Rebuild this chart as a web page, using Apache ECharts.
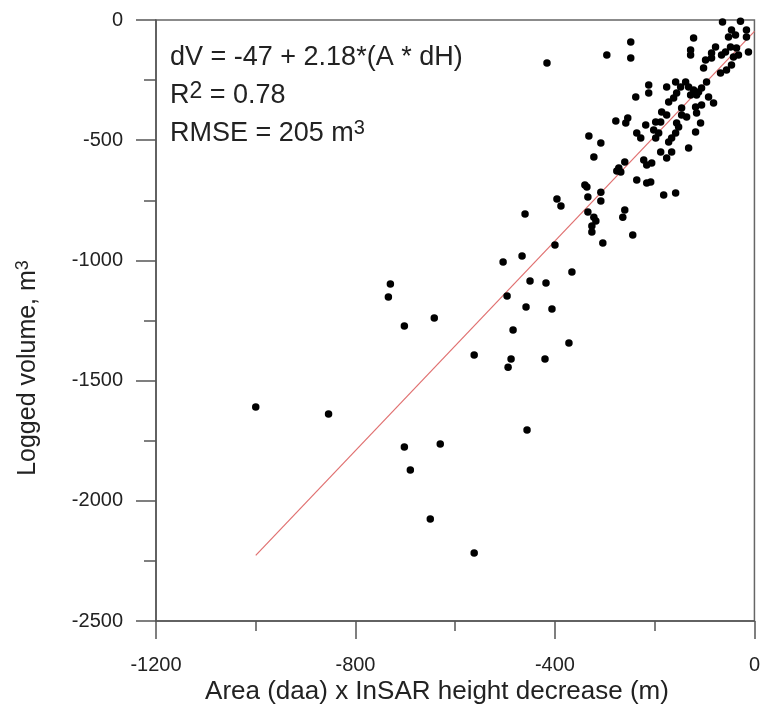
<!DOCTYPE html>
<html>
<head>
<meta charset="utf-8">
<script src="https://cdn.jsdelivr.net/npm/echarts@6/dist/echarts.min.js"></script>
<style>
  html, body { margin: 0; padding: 0; background: #fff; }
  #chart { width: 763px; height: 712px; }
</style>
</head>
<body>
<div id="chart"></div>
<script>
// logged volume vs area * InSAR height decrease
const areaDh = [
  -1000, -854, -730, -734, -702, -642, -562, -702, -630, -690, -650, -562,
  -504, -466, -496, -450, -418, -400, -366, -458, -406, -484, -488, -494, -420, -372, -456,
  -322, -272, -276, -260, -236, -340, -336, -396, -388, -334, -308, -308, -460,
  -334, -322, -318, -326, -326, -260, -264, -244, -304,
  -248, -296, -248, -416, -238, -212, -212, -278, -254, -258, -218, -332, -308,
  -236, -228, -268, -222, -216, -216,
  -64, -28, -122, -128, -128, -46, -52, -38, -16, -36, -48, -58, -66, -42, -32,
  -78, -86, -98, -102, -86, -68, -46, -56, -16, -12,
  -176, -158, -148, -138, -156, -162, -132, -122, -128, -116, -112, -106, -96,
  -92, -82, -106, -118, -172, -186, -176, -146, -146, -136, -116, -198, -188,
  -108, -156, -118, -132, -152, -158, -166, -172, -192, -198, -202, -188, -166,
  -176, -206, -208, -182, -158
];
const loggedVol = [
  -1610, -1639, -1098, -1152, -1273, -1240, -1394, -1776, -1764, -1872, -2076, -2217,
  -1007, -982, -1148, -1086, -1094, -936, -1048, -1194, -1202, -1290, -1410, -1444, -1410, -1344, -1706,
  -570, -616, -628, -591, -666, -686, -695, -745, -774, -736, -716, -753, -807,
  -799, -820, -836, -857, -882, -790, -820, -894, -928,
  -92, -146, -158, -179, -320, -270, -304, -420, -408, -428, -437, -483, -512,
  -470, -491, -632, -582, -603, -678,
  -8, -5, -75, -125, -146, -42, -71, -62, -71, -116, -112, -133, -146, -154, -146,
  -112, -137, -166, -200, -158, -220, -187, -208, -42, -133,
  -279, -258, -279, -258, -304, -324, -279, -291, -312, -312, -300, -283, -258,
  -320, -345, -354, -362, -341, -383, -395, -366, -395, -404, -387, -424, -424,
  -428, -428, -466, -532, -445, -470, -491, -508, -470, -491, -458, -549, -549,
  -574, -595, -674, -728, -720
];

// fitted line end points, dV = -47 + 2.18*(A*dH)
const fitX = [-1000, 0];
const fitY = [-2227, -47];

const xTicks = { min: -1200, max: 0, interval: 400 };
const yTicks = { min: -2500, max: 0, interval: 500 };

const chartDom = document.getElementById('chart');
const myChart = echarts.init(chartDom, null, { renderer: 'canvas' });

const axisColor = '#555';
const labelFont = {
  color: '#222', fontSize: 20,
  fontFamily: 'Liberation Sans, Arial, sans-serif',
  formatter: (v) => String(v)   // no thousands separator
};

const options = {
  animation: false,
  grid: {
    left: 156, right: 7, top: 20, bottom: 91,
    show: true,
    borderColor: '#666',
    borderWidth: 1.5
  },
  xAxis: {
    type: 'value',
    min: xTicks.min, max: xTicks.max, interval: xTicks.interval,
    axisLine: { onZero: false, lineStyle: { color: axisColor, width: 1.5 } },
    axisTick: { inside: false, length: 18, lineStyle: { color: axisColor, width: 1.5 } },
    minorTick: { show: true, splitNumber: 2, length: 10, lineStyle: { color: axisColor, width: 1.5 } },
    splitLine: { show: false },
    axisLabel: Object.assign({ margin: 34, showMinLabel: true, showMaxLabel: true }, labelFont)
  },
  yAxis: {
    type: 'value',
    min: yTicks.min, max: yTicks.max, interval: yTicks.interval,
    axisLine: { onZero: false, lineStyle: { color: axisColor, width: 1.5 } },
    axisTick: { inside: false, length: 20, lineStyle: { color: axisColor, width: 1.5 } },
    minorTick: { show: true, splitNumber: 2, length: 12, lineStyle: { color: axisColor, width: 1.5 } },
    splitLine: { show: false },
    axisLabel: Object.assign({ margin: 33, showMinLabel: true, showMaxLabel: true }, labelFont)
  },
  series: [
    {
      type: 'line',
      data: fitX.map((x, i) => [x, fitY[i]]),
      symbol: 'none',
      lineStyle: { color: '#e07070', width: 1.2 },
      z: 1
    },
    {
      type: 'scatter',
      data: areaDh.map((x, i) => [x, loggedVol[i]]),
      symbol: 'circle',
      symbolSize: 7.5,
      itemStyle: { color: '#000', opacity: 1 },
      z: 2
    }
  ],
  graphic: [
    {
      type: 'text', left: 170, top: 44,
      style: { text: 'dV = -47 + 2.18*(A * dH)', fill: '#222', font: '27px "Liberation Sans", Arial, sans-serif' }
    },
    {
      type: 'text', left: 170, top: 80,
      style: {
        text: 'R{sup|2} = 0.78',
        fill: '#222', font: '27px "Liberation Sans", Arial, sans-serif',
        rich: { sup: { fontSize: 23, fill: '#222', padding: [0, 0, 8, 0] } }
      }
    },
    {
      type: 'text', left: 170, top: 118,
      style: {
        text: 'RMSE = 205 m{sup|3}',
        fill: '#222', font: '27px "Liberation Sans", Arial, sans-serif',
        rich: { sup: { fontSize: 20, fill: '#222', padding: [0, 0, 12, 0] } }
      }
    },
    {
      type: 'text', x: 28, y: 368, rotation: Math.PI / 2,
      style: {
        text: 'Logged volume, m{sup|3}',
        fill: '#222', font: '25px "Liberation Sans", Arial, sans-serif',
        align: 'center', verticalAlign: 'middle',
        rich: { sup: { fontSize: 18, fill: '#222', padding: [0, 0, 10, 0] } }
      }
    },
    {
      type: 'text', x: 437, y: 692,
      style: {
        text: 'Area (daa) x InSAR height decrease (m)',
        fill: '#222', font: '26px "Liberation Sans", Arial, sans-serif',
        align: 'center', verticalAlign: 'middle'
      }
    }
  ]
};

myChart.setOption(options);

window.addEventListener('resize', () => {
  myChart.resize();
});
</script>
</body>
</html>
